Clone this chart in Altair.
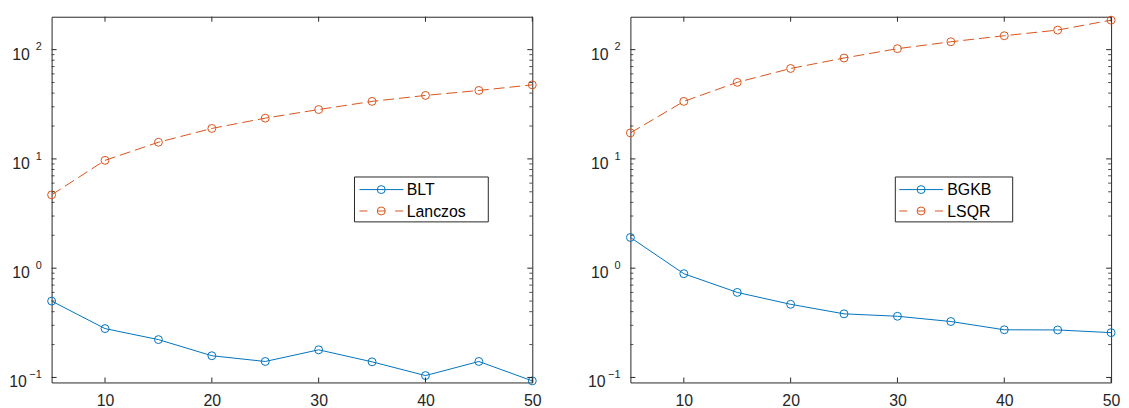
import altair as alt
import pandas as pd

# ---------------- data ----------------
iters = [5, 10, 15, 20, 25, 30, 35, 40, 45, 50]
blt = [0.50, 0.28, 0.222, 0.158, 0.14, 0.179, 0.139, 0.104, 0.14, 0.093]
lanczos = [4.69, 9.7, 14.2, 19.0, 23.6, 28.3, 33.6, 38.1, 42.3, 47.6]
bgkb = [1.91, 0.89, 0.60, 0.467, 0.382, 0.363, 0.325, 0.273, 0.272, 0.257]
lsqr = [17.3, 33.6, 50.2, 67.2, 83.8, 102, 118, 134, 151, 186]

x_ticks = [10, 20, 30, 40, 50]
decades = [0.1, 1, 10, 100]
exponents = ["\u22121", "0", "1", "2"]
minor_ticks = [m * d for d in [0.1, 1, 10] for m in range(2, 10)]

BLUE = "#0072BD"
ORANGE = "#D95319"
AX = "#262626"
FONT = "Liberation Sans"

W, H = 485, 369

xscale = alt.Scale(domain=[5, 50], nice=False, zero=False)
yscale = alt.Scale(type="log", domain=[0.09, 200], nice=False)


def X(**kw):
    return alt.X("it:Q", scale=xscale, **kw)


def Y():
    return alt.Y("v:Q", scale=yscale, axis=None)


def panel(name1, vals1, name2, vals2, leg):
    df = pd.DataFrame({"it": iters * 2, "v": vals1 + vals2,
                       "s": [name1] * len(iters) + [name2] * len(iters)})
    base = alt.Chart(df)
    xaxis = alt.Axis(values=x_ticks, title=None, grid=False, ticks=False, domain=False,
                     labelFontSize=16, labelFont=FONT, labelColor=AX, labelPadding=10,
                     labelFlush=False, labelOverlap=False)
    l1 = base.transform_filter(alt.datum.s == name1).mark_line(
        color=BLUE, strokeWidth=1).encode(x=X(axis=xaxis), y=Y())
    l2 = base.transform_filter(alt.datum.s == name2).mark_line(
        color=ORANGE, strokeWidth=1, strokeDash=[11, 5]).encode(x=X(), y=Y())
    p1 = base.transform_filter(alt.datum.s == name1).mark_point(
        shape="circle", filled=False, size=64, strokeWidth=1, color=BLUE, opacity=1).encode(x=X(), y=Y())
    p2 = base.transform_filter(alt.datum.s == name2).mark_point(
        shape="circle", filled=False, size=64, strokeWidth=1, color=ORANGE, opacity=1).encode(x=X(), y=Y())

    # ticks (inside, box style)
    xt = alt.Chart(pd.DataFrame({"it": x_ticks}))
    xt_b = xt.mark_rule(color=AX, strokeWidth=1).encode(x=X(), y=alt.value(H), y2=alt.value(H - 5))
    xt_t = xt.mark_rule(color=AX, strokeWidth=1).encode(x=X(), y=alt.value(0), y2=alt.value(5))
    yM = alt.Chart(pd.DataFrame({"v": decades}))
    ym = alt.Chart(pd.DataFrame({"v": minor_ticks}))
    yM_l = yM.mark_rule(color=AX, strokeWidth=1).encode(y=Y(), x=alt.value(0), x2=alt.value(5))
    yM_r = yM.mark_rule(color=AX, strokeWidth=1).encode(y=Y(), x=alt.value(W - 5), x2=alt.value(W))
    ym_l = ym.mark_rule(color=AX, strokeWidth=0.8).encode(y=Y(), x=alt.value(0), x2=alt.value(3))
    ym_r = ym.mark_rule(color=AX, strokeWidth=0.8).encode(y=Y(), x=alt.value(W - 3), x2=alt.value(W))

    # y tick labels 10^k
    lab = alt.Chart(pd.DataFrame({"v": decades, "e": exponents}))
    ten_neg = lab.transform_filter("datum.v < 0.5").mark_text(
        text="10", align="right", baseline="alphabetic", dy=10, fontSize=16, font=FONT, color=AX
    ).encode(y=Y(), x=alt.value(-25))
    ten_pos = lab.transform_filter("datum.v > 0.5").mark_text(
        text="10", align="right", baseline="alphabetic", dy=10, fontSize=16, font=FONT, color=AX
    ).encode(y=Y(), x=alt.value(-22))
    expo = lab.mark_text(align="right", baseline="alphabetic", dy=0.7, fontSize=11,
                         font=FONT, color=AX).encode(y=Y(), x=alt.value(-10), text="e:N")

    # legend box
    one = alt.Chart(pd.DataFrame({"k": [0]}))
    bx0, bx1, by0, by1, r1, r2, lx0, lx1, mx, tx = leg
    box = one.mark_rect(fill="white", stroke=AX, strokeWidth=1).encode(
        x=alt.value(bx0), x2=alt.value(bx1), y=alt.value(by0), y2=alt.value(by1))
    lg_l1 = one.mark_rule(color=BLUE, strokeWidth=1).encode(
        x=alt.value(lx0), x2=alt.value(lx1), y=alt.value(r1))
    lg_l2 = one.mark_rule(color=ORANGE, strokeWidth=1, strokeDash=[8, 10]).encode(
        x=alt.value(lx0), x2=alt.value(lx1), y=alt.value(r2))
    lg_p1 = one.mark_point(shape="circle", filled=False, size=64, strokeWidth=1, color=BLUE, opacity=1).encode(
        x=alt.value(mx), y=alt.value(r1))
    lg_p2 = one.mark_point(shape="circle", filled=False, size=64, strokeWidth=1, color=ORANGE, opacity=1).encode(
        x=alt.value(mx), y=alt.value(r2))
    lg_t1 = one.mark_text(text=name1, align="left", baseline="alphabetic", fontSize=16, font=FONT,
                          color="black").encode(x=alt.value(tx), y=alt.value(r1 + 5.8))
    lg_t2 = one.mark_text(text=name2, align="left", baseline="alphabetic", fontSize=16, font=FONT,
                          color="black").encode(x=alt.value(tx), y=alt.value(r2 + 5.8))

    return alt.layer(l1, l2, p1, p2, xt_b, xt_t, yM_l, yM_r, ym_l, ym_r,
                     ten_neg, ten_pos, expo,
                     box, lg_l1, lg_l2, lg_p1, lg_p2, lg_t1, lg_t2).properties(width=W, height=H)


left = panel("BLT", blt, "Lanczos", lanczos,
             (305.6, 440.6, 161.7, 207, 174.4, 196, 310.6, 355, 332.6, 358.3))
right = panel("BGKB", bgkb, "LSQR", lsqr,
              (267.3, 385.7, 161.7, 207, 174.4, 196, 271.3, 315.7, 293.3, 319.7))

chart = alt.hconcat(left, right, spacing=99, bounds="flush").configure_view(
    stroke=AX, strokeWidth=1
).properties(padding={"left": 0, "top": 3, "right": 0, "bottom": 0}, background="white")

chart.save("out.html", embed_options={"renderer": "svg", "actions": False})
